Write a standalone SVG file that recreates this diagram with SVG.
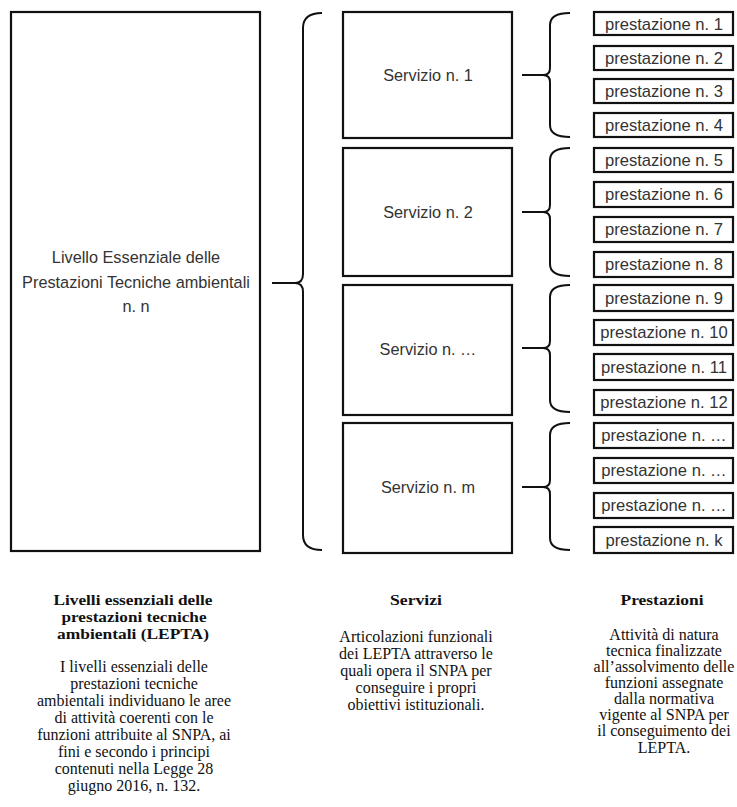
<svg xmlns="http://www.w3.org/2000/svg" width="737" height="807" viewBox="0 0 737 807">
<style>
.box{fill:#fff;stroke:#111;stroke-width:2.2}
.br{fill:none;stroke:#111;stroke-width:2}
.sans{font-family:"Liberation Sans",Arial,sans-serif;fill:#333;text-anchor:middle}
.s16{font-size:16.3px}
.p{font-size:16.6px}
.serif{font-family:"Liberation Serif","Times New Roman",serif;fill:#111;text-anchor:middle;font-size:16px}
.hd{font-weight:bold;font-size:15.5px}
</style>
<rect width="737" height="807" fill="#fff"/>
<g id="lepta">
<rect class="box" x="11" y="12" width="249" height="539"/>
<text class="sans s16" x="136" y="263">Livello Essenziale delle</text>
<text class="sans s16" x="136" y="288">Prestazioni Tecniche ambientali</text>
<text class="sans s16" x="136" y="312">n. n</text>
</g>
<g id="servizio1"><rect class="box" x="343" y="12" width="169" height="126"/><text class="sans s16" x="428" y="81">Servizio n. 1</text></g>
<g id="servizio2"><rect class="box" x="343" y="148" width="169" height="128"/><text class="sans s16" x="428" y="218">Servizio n. 2</text></g>
<g id="servizio3"><rect class="box" x="343" y="285" width="169" height="130"/><text class="sans s16" x="428" y="355">Servizio n. …</text></g>
<g id="servizio4"><rect class="box" x="343" y="423" width="169" height="130"/><text class="sans s16" x="428" y="493">Servizio n. m</text></g>
<g id="prestazioni">
<g id="p1"><rect class="box" x="594" y="12" width="139" height="23"/><text class="sans p" x="664" y="30">prestazione n. 1</text></g>
<g id="p2"><rect class="box" x="594" y="46" width="139" height="24"/><text class="sans p" x="664" y="64">prestazione n. 2</text></g>
<g id="p3"><rect class="box" x="594" y="79" width="139" height="24"/><text class="sans p" x="664" y="97">prestazione n. 3</text></g>
<g id="p4"><rect class="box" x="594" y="113" width="139" height="24"/><text class="sans p" x="664" y="131">prestazione n. 4</text></g>
<g id="p5"><rect class="box" x="594" y="148" width="139" height="24"/><text class="sans p" x="664" y="166">prestazione n. 5</text></g>
<g id="p6"><rect class="box" x="594" y="182" width="139" height="25"/><text class="sans p" x="664" y="200">prestazione n. 6</text></g>
<g id="p7"><rect class="box" x="594" y="217" width="139" height="25"/><text class="sans p" x="664" y="235">prestazione n. 7</text></g>
<g id="p8"><rect class="box" x="594" y="252" width="139" height="25"/><text class="sans p" x="664" y="270">prestazione n. 8</text></g>
<g id="p9"><rect class="box" x="594" y="285" width="139" height="26"/><text class="sans p" x="664" y="304">prestazione n. 9</text></g>
<g id="p10"><rect class="box" x="594" y="320" width="139" height="25"/><text class="sans p" x="664" y="338">prestazione n. 10</text></g>
<g id="p11"><rect class="box" x="594" y="354" width="139" height="26"/><text class="sans p" x="664" y="373">prestazione n. 11</text></g>
<g id="p12"><rect class="box" x="594" y="390" width="139" height="25"/><text class="sans p" x="664" y="408">prestazione n. 12</text></g>
<g id="p13"><rect class="box" x="594" y="423" width="139" height="25"/><text class="sans p" x="664" y="441">prestazione n. …</text></g>
<g id="p14"><rect class="box" x="594" y="458" width="139" height="25"/><text class="sans p" x="664" y="476">prestazione n. …</text></g>
<g id="p15"><rect class="box" x="594" y="493" width="139" height="25"/><text class="sans p" x="664" y="511">prestazione n. …</text></g>
<g id="p16"><rect class="box" x="594" y="527" width="139" height="26"/><text class="sans p" x="664" y="546">prestazione n. k</text></g>
</g>
<g id="connectors">
<path class="br" d="M322,13 Q303,13 303,28 L303,274 Q303,283 295,283 L272,283 M295,283 Q303,283 303,292 L303,535 Q303,550 322,550"/>
<path class="br" d="M570,13 Q550,13 550,25 L550,68 Q550,75 543,75 L522,75 M543,75 Q550,75 550,82 L550,125 Q550,137 570,137"/>
<path class="br" d="M570,148 Q550,148 550,160 L550,205 Q550,212 543,212 L522,212 M543,212 Q550,212 550,219 L550,264 Q550,276 570,276"/>
<path class="br" d="M570,285 Q550,285 550,297 L550,341 Q550,348 543,348 L522,348 M543,348 Q550,348 550,355 L550,400 Q550,412 570,412"/>
<path class="br" d="M570,423 Q550,423 550,435 L550,480 Q550,487 543,487 L522,487 M543,487 Q550,487 550,494 L550,538 Q550,550 570,550"/>
</g>
<g id="legend-lepta">
<text class="serif hd" x="133" y="605" textLength="159" lengthAdjust="spacingAndGlyphs">Livelli essenziali delle</text>
<text class="serif hd" x="134" y="622" textLength="145" lengthAdjust="spacingAndGlyphs">prestazioni tecniche</text>
<text class="serif hd" x="133" y="639" textLength="152" lengthAdjust="spacingAndGlyphs">ambientali (LEPTA)</text>
<text class="serif" x="134" y="672">I livelli essenziali delle</text>
<text class="serif" x="134" y="689">prestazioni tecniche</text>
<text class="serif" x="134" y="706">ambientali individuano le aree</text>
<text class="serif" x="134" y="723">di attività coerenti con le</text>
<text class="serif" x="134" y="740">funzioni attribuite al SNPA, ai</text>
<text class="serif" x="134" y="757">fini e secondo i principi</text>
<text class="serif" x="134" y="774">contenuti nella Legge 28</text>
<text class="serif" x="134" y="791">giugno 2016, n. 132.</text>
</g>
<g id="legend-servizi">
<text class="serif hd" x="416" y="605" textLength="52" lengthAdjust="spacingAndGlyphs">Servizi</text>
<text class="serif" x="416" y="642">Articolazioni funzionali</text>
<text class="serif" x="416" y="659">dei LEPTA attraverso le</text>
<text class="serif" x="416" y="676">quali opera il SNPA per</text>
<text class="serif" x="416" y="693">conseguire i propri</text>
<text class="serif" x="416" y="710">obiettivi istituzionali.</text>
</g>
<g id="legend-prestazioni">
<text class="serif hd" x="662" y="605" textLength="83" lengthAdjust="spacingAndGlyphs">Prestazioni</text>
<text class="serif" x="664" y="640">Attività di natura</text>
<text class="serif" x="664" y="656">tecnica finalizzate</text>
<text class="serif" x="664" y="672">all’assolvimento delle</text>
<text class="serif" x="664" y="688">funzioni assegnate</text>
<text class="serif" x="664" y="704">dalla normativa</text>
<text class="serif" x="664" y="720">vigente al SNPA per</text>
<text class="serif" x="664" y="736">il conseguimento dei</text>
<text class="serif" x="664" y="753">LEPTA.</text>
</g>
</svg>
